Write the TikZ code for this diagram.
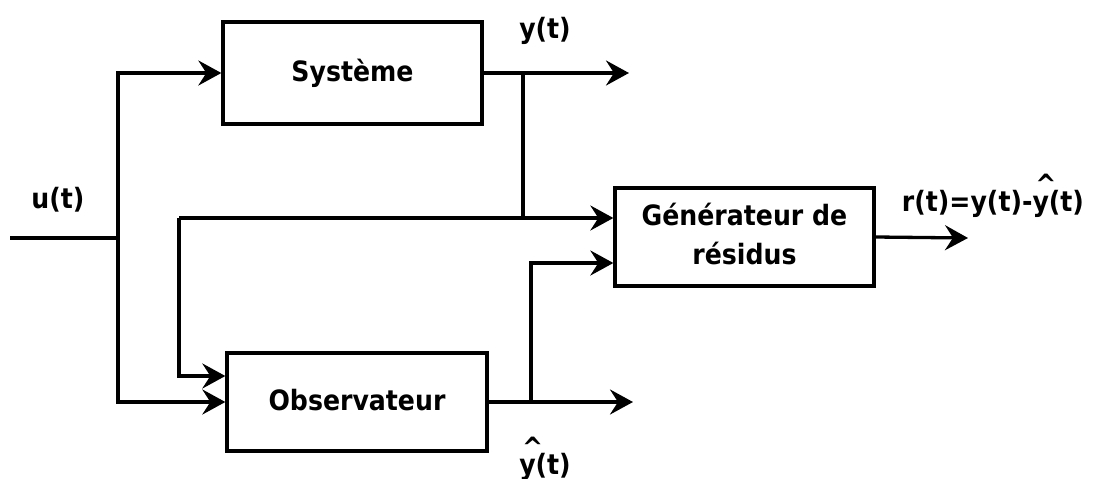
\documentclass[tikz,border=0pt]{standalone}
\usepackage{fontspec}
\setmainfont{DejaVu Sans Condensed}[BoldFont={DejaVu Sans Condensed Bold}]
\usetikzlibrary{arrows.meta,calc}
\newcommand{\blkfont}{\fontsize{28}{39}\selectfont\bfseries}
\newcommand{\hy}{\makebox[0pt][l]{\raisebox{0.6em}{\hspace{0.1em}\^{}}}y}
\begin{document}
\begin{tikzpicture}[x=1pt,y=-1pt,line width=3.3pt,
  blk/.style={draw,rectangle,inner sep=0pt,font=\blkfont,align=center},
  arr/.style={-{Stealth[length=23pt,width=25pt,inset=8pt]}},
  lbl/.style={font=\blkfont,inner sep=0pt,anchor=base}]
\useasboundingbox (0,0) rectangle (1098,479);
\node[blk,minimum width=259pt,minimum height=102pt] (sys) at (352.5,73) {Système};
\node[blk,minimum width=260pt,minimum height=98pt] (obs) at (357,402) {\raisebox{5pt}{Observateur}};
\node[blk,minimum width=259pt,minimum height=98pt] (gen) at (744.5,237) {\raisebox{4pt}{\begin{tabular}{@{}c@{}}Générateur de\\[-0.5pt]résidus\end{tabular}}};
\coordinate (in) at (10,238);
\coordinate (s) at (118,238);
\coordinate (yend) at (629,73);
\coordinate (b1) at (523,73);
\coordinate (c1) at (523,218);
\coordinate (f) at (179,218);
\coordinate (o1) at (179,376);
\coordinate (yhend) at (633,402);
\coordinate (b2) at (531,402);
\coordinate (c2) at (531,263);
\coordinate (rend) at (968,238);
\draw (in) -- (s);
\draw[arr] (s) |- (sys.west);
\draw[arr] (s) |- (obs.west);
\draw[arr] (sys.east) -- (yend);
\draw (b1) -- (c1);
\draw[arr] (f) -- (f -| gen.west);
\draw[arr] (f) -- (o1) -- (o1 -| obs.west);
\draw[arr] (obs.east) -- (yhend);
\draw[arr] (b2) -- (c2) -- (c2 -| gen.west);
\draw[arr] (gen.east) -- (rend);
\node[lbl] (u) at (58,208.5) {u(t)};
\node[lbl] (y) at (545,38) {y(t)};
\node[lbl] (yh) at (545,474) {\hy(t)};
\node[lbl] (r) at (993,211) {r(t)=y(t)-\hy(t)};
\end{tikzpicture}
\end{document}
